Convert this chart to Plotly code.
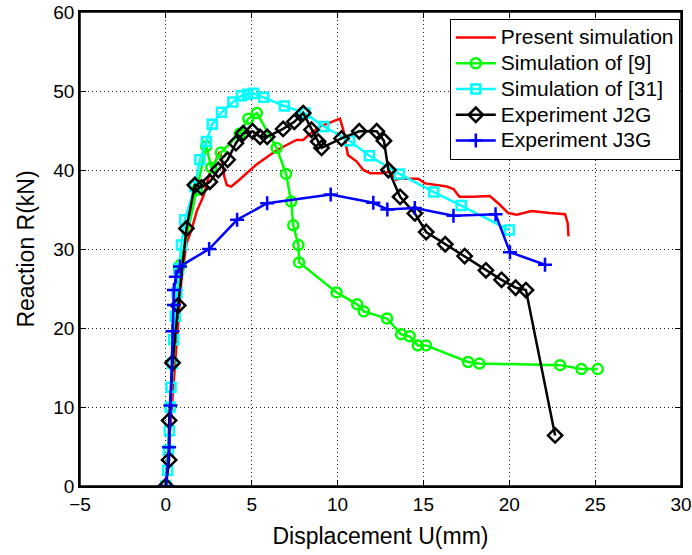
import plotly.graph_objects as go

# Present simulation (red line)
red_x = [0, 0.35, 0.6, 0.9, 1.2, 1.5, 1.8, 2.17, 2.56, 2.95, 3.14, 3.25, 3.4, 3.55, 3.8, 4.3, 4.88,
         5.28, 6.45, 7.6, 8.0, 8.3, 8.97, 9.75, 10.14, 10.33, 10.6, 11.1, 11.5, 11.9, 12.57, 13.05,
         13.4, 13.6, 14.7, 15.1, 16.36, 16.75, 17.1, 17.9, 18.87, 19.45, 19.94, 20.43, 21.3, 22.37,
         23.25, 23.4, 23.45]
red_y = [0, 10, 18, 26, 30.7, 32.5, 34.8, 36.6, 39.6, 41.4, 42.3, 41.5, 39.2, 38.1, 37.9, 38.8, 40.0,
         40.7, 42.5, 43.8, 43.8, 44.4, 45.5, 46.2, 46.5, 45.1, 41.9, 41.1, 40.0, 39.6, 39.6, 39.8,
         38.75, 38.9, 38.9, 38.3, 37.9, 37.6, 36.6, 36.6, 36.7, 35.6, 34.55, 34.35, 34.8, 34.55,
         34.4, 33.3, 31.6]

# Simulation of [9] (green circles)
grn_x = [0, 0.25, 0.85, 1.8, 2.35, 2.65, 3.2, 4.3, 4.8, 5.3, 6.45, 7.0, 7.3, 7.42, 7.72, 7.76,
         9.94, 11.14, 11.53, 12.88, 13.7, 14.2, 14.67, 15.15, 17.6, 18.26, 22.96, 24.2, 25.15]
grn_y = [0, 10, 28, 37.5, 43, 40.3, 42.2, 44.6, 46.5, 47.2, 42.8, 39.5, 36, 33, 30.5, 28.3,
         24.5, 23.0, 22.1, 21.2, 19.2, 18.95, 17.8, 17.8, 15.7, 15.5, 15.3, 14.8, 14.8]

# Simulation of [31] (cyan squares)
cyn_x = [0, 0.1, 0.15, 0.2, 0.25, 0.3, 0.38, 0.45, 0.55, 0.65, 0.75, 0.91, 1.1, 1.69, 1.98, 2.36,
         2.7, 3.24, 3.9, 4.4, 4.76, 5.1, 5.7, 6.9, 8.1, 9.2, 10.7, 11.85, 13.6, 15.6, 17.2, 20.0]
cyn_y = [0, 2, 4.5, 7, 10, 12.5, 15.5, 18.5, 21.5, 24.5, 27.5, 30.5, 33.7, 37.9, 41.3, 43.6,
         45.8, 47.3, 48.6, 49.4, 49.6, 49.7, 49.2, 48.1, 47.2, 45.5, 43.7, 41.8, 39.5, 37.2, 35.5, 32.4]

# Experiment J2G (black diamonds)
blk_x = [0, 0.19, 0.19, 0.39, 0.72, 1.2, 1.69, 2.08, 2.56, 3.05, 3.6, 4.08, 4.5, 5.05, 5.48, 5.9,
         6.83, 7.48, 8.0, 8.48, 8.87, 9.07, 10.23, 11.26, 12.28, 12.7, 12.96, 13.64, 14.5, 15.16,
         16.27, 17.4, 18.64, 19.55, 20.37, 20.97, 22.67]
blk_y = [0, 3.3, 8.3, 15.6, 22.85, 32.6, 38.1, 37.8, 38.5, 40, 41.3, 43.4, 44.65, 44.9, 44.2, 44.2,
         45.2, 46.1, 47.2, 45.1, 43.6, 42.8, 44.0, 44.9, 44.9, 43.7, 40, 36.6, 34.5, 32.15,
         30.6, 29.1, 27.3, 26.1, 25.1, 24.8, 6.4]

# Experiment J3G (blue plus)
blu_x = [0, 0.19, 0.27, 0.39, 0.47, 0.47, 0.58, 0.82, 2.52, 4.15, 5.9, 9.6, 12.08, 12.9, 14.5,
         16.75, 19.2, 20.04, 22.08]
blu_y = [0, 4.9, 10.2, 19.6, 22.9, 24.8, 26.5, 27.8, 30, 33.7, 35.8, 36.9, 35.85, 35.0, 35.2,
         34.2, 34.4, 29.6, 28.0]

x_ticks = [-5, 0, 5, 10, 15, 20, 25, 30]
y_ticks = [0, 10, 20, 30, 40, 50, 60]

names = ["Present simulation", "Simulation of [9]", "Simulation of [31]",
         "Experiment J2G", "Experiment J3G"]

FONT = "Liberation Sans, Arial, sans-serif"


def leg(name):
    return '<span style="font-size:21px">' + name + '</span>'


fig = go.Figure()
fig.add_trace(go.Scatter(x=red_x, y=red_y, mode="lines", name=leg(names[0]),
                         line=dict(color="#FF0000", width=2.5)))
fig.add_trace(go.Scatter(x=grn_x, y=grn_y, mode="lines+markers", name=leg(names[1]),
                         line=dict(color="#00FF00", width=2.5),
                         marker=dict(symbol="circle-open", size=10, color="#00FF00",
                                     line=dict(width=2.5, color="#00FF00"))))
fig.add_trace(go.Scatter(x=cyn_x, y=cyn_y, mode="lines+markers", name=leg(names[2]),
                         line=dict(color="#00FFFF", width=2.5),
                         marker=dict(symbol="square-open", size=9, color="#00FFFF",
                                     line=dict(width=2.5, color="#00FFFF"))))
fig.add_trace(go.Scatter(x=blk_x, y=blk_y, mode="lines+markers", name=leg(names[3]),
                         line=dict(color="#000000", width=2.5),
                         marker=dict(symbol="diamond-open", size=11, color="#000000",
                                     line=dict(width=2.5, color="#000000"))))
fig.add_trace(go.Scatter(x=blu_x, y=blu_y, mode="lines+markers", name=leg(names[4]),
                         line=dict(color="#0000FF", width=2.5),
                         marker=dict(symbol="cross-thin-open", size=10, color="#0000FF",
                                     line=dict(width=2.5, color="#0000FF"))))

axis_common = dict(showline=True, linecolor="black", linewidth=1.5, mirror="allticks",
                   ticks="inside", ticklen=6, tickcolor="black", tickwidth=1,
                   showgrid=True, gridcolor="#222222", gridwidth=1, griddash="1px,3px",
                   zeroline=False, tickfont=dict(family=FONT, size=19, color="black"),
                   ticklabeloverflow="allow")

fig.update_xaxes(range=[-5, 30], tickvals=x_ticks, **axis_common,
                 title=dict(text="Displacement U(mm)", font=dict(family=FONT, size=23, color="black"),
                            standoff=14))
fig.update_yaxes(range=[0, 60], tickvals=y_ticks, **axis_common,
                 title=dict(text="Reaction R(kN)", font=dict(family=FONT, size=23, color="black"),
                            standoff=12))

fig.add_shape(type="rect", xref="paper", yref="paper", x0=0, x1=1, y0=0, y1=1,
              line=dict(color="black", width=1.5), fillcolor="rgba(0,0,0,0)", layer="above")

fig.update_layout(
    width=692, height=555,
    margin=dict(l=80, r=11, t=12, b=69, autoexpand=False),
    paper_bgcolor="white", plot_bgcolor="white",
    font=dict(family=FONT, color="black"),
    legend=dict(x=0.998, xanchor="right", y=0.986, yanchor="top",
                bgcolor="white", bordercolor="black", borderwidth=1,
                font=dict(family=FONT, size=17.5, color="black"),
                tracegroupgap=0, itemwidth=40),
    showlegend=True,
)

fig.write_html("out.html")
